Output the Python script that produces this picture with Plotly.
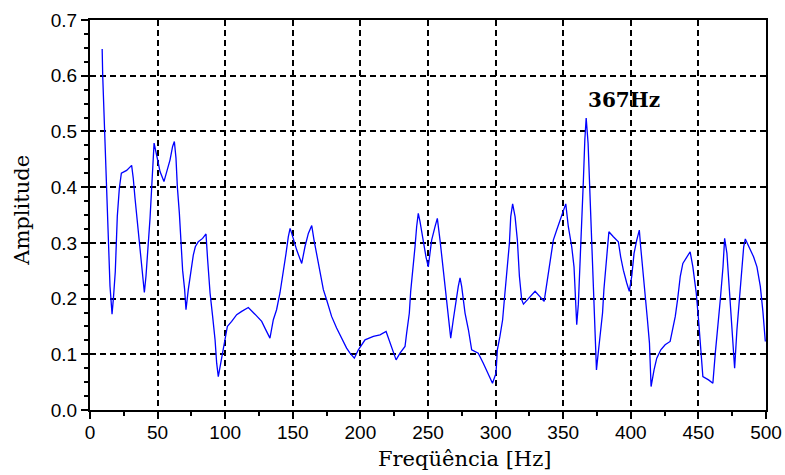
import plotly.graph_objects as go

# Amplitude spectrum of the measured signal
peak_freq = 367
peak_amp = 0.524

freq = [
    9.0, 9.4, 14.8, 16.3, 17.3, 18.7, 20.2, 21.7, 23.2, 27.1, 30.8, 32.0, 33.3, 35.0,
    36.5, 38.0, 39.4, 40.2, 41.4, 43.1, 44.4, 45.6, 46.4, 47.4, 49.5, 51.8, 54.7, 57.2,
    59.2, 61.1, 62.4, 63.6, 64.6, 66.1, 67.1, 68.5, 70.0, 71.0, 72.7, 74.7, 76.4, 77.9,
    80.1, 83.3, 85.8, 87.0, 88.8, 90.7, 92.5, 93.7, 94.9, 96.7, 98.6, 100.1, 101.6,
    104.8, 108.5, 112.2, 117.1, 122.0, 127.0, 129.4, 133.1, 135.6, 138.0, 140.5, 143.0,
    145.0, 146.7, 148.0, 149.2, 152.9, 156.6, 159.0, 161.5, 164.0, 165.7, 167.6, 170.1,
    172.6, 175.0, 178.7, 182.4, 186.1, 189.8, 192.3, 195.5, 198.5, 203.4, 209.6, 214.5,
    219.0, 221.9, 226.4, 229.3, 233.0, 234.2, 236.2, 237.2, 239.2, 240.4, 241.6, 242.8,
    244.1, 246.6, 248.5, 250.2, 252.7, 255.2, 256.9, 258.9, 261.4, 263.3, 265.1, 266.8,
    268.7, 270.7, 272.4, 273.7, 274.9, 277.4, 279.9, 282.3, 287.2, 290.9, 294.6, 297.7,
    300.3, 301.3, 303.2, 305.2, 306.9, 308.7, 310.2, 311.2, 312.6, 314.4, 316.1, 317.6,
    319.3, 320.6, 329.2, 335.9, 337.8, 340.3, 342.7, 345.2, 347.7, 350.6, 351.9, 353.8,
    356.3, 358.0, 359.0, 360.0, 361.2, 362.5, 363.7, 364.9, 366.0, peak_freq, 368.4,
    369.7, 371.0, 372.3, 373.5, 374.6, 375.5, 377.2, 379.1, 380.1, 381.6, 382.6, 383.8,
    387.1, 390.8, 392.5, 394.5, 397.0, 398.9, 400.7, 402.4, 404.4, 406.3, 407.3, 408.8,
    410.5, 412.3, 413.8, 415.0, 417.2, 419.2, 422.2, 425.4, 429.1, 431.1, 432.9, 434.6,
    436.6, 438.5, 441.5, 443.9, 445.9, 448.4, 450.1, 451.8, 453.3, 457.5, 460.7, 462.5,
    464.2, 466.2, 468.2, 469.4, 471.1, 473.1, 474.8, 476.8, 478.5, 480.2, 482.2, 483.5,
    484.7, 487.2, 490.8, 493.3, 495.8, 497.7, 499.5,
]

amplitude = [
    0.648, 0.600, 0.222, 0.172, 0.200, 0.248, 0.348, 0.398, 0.425, 0.430, 0.439, 0.416,
    0.380, 0.341, 0.305, 0.266, 0.240, 0.211, 0.240, 0.293, 0.344, 0.398, 0.449, 0.479,
    0.455, 0.428, 0.410, 0.431, 0.449, 0.473, 0.482, 0.452, 0.401, 0.353, 0.305, 0.251,
    0.216, 0.180, 0.216, 0.251, 0.278, 0.293, 0.302, 0.308, 0.316, 0.270, 0.210, 0.168,
    0.126, 0.084, 0.060, 0.084, 0.108, 0.132, 0.150, 0.159, 0.171, 0.177, 0.184, 0.172,
    0.159, 0.147, 0.129, 0.162, 0.180, 0.210, 0.246, 0.281, 0.311, 0.326, 0.317, 0.287,
    0.263, 0.293, 0.317, 0.331, 0.305, 0.281, 0.246, 0.216, 0.198, 0.168, 0.147, 0.129,
    0.111, 0.102, 0.093, 0.108, 0.126, 0.132, 0.135, 0.141, 0.120, 0.090, 0.102, 0.114,
    0.138, 0.174, 0.213, 0.257, 0.293, 0.329, 0.353, 0.338, 0.299, 0.275, 0.257, 0.305,
    0.329, 0.344, 0.305, 0.251, 0.216, 0.168, 0.129, 0.162, 0.198, 0.222, 0.237, 0.222,
    0.174, 0.144, 0.108, 0.102, 0.084, 0.066, 0.048, 0.066, 0.108, 0.132, 0.162, 0.210,
    0.257, 0.299, 0.347, 0.370, 0.347, 0.305, 0.240, 0.198, 0.190, 0.213, 0.195, 0.228,
    0.269, 0.305, 0.323, 0.341, 0.359, 0.370, 0.329, 0.293, 0.257, 0.216, 0.153, 0.190,
    0.281, 0.341, 0.410, 0.485, peak_amp, 0.479, 0.389, 0.293, 0.204, 0.132, 0.072,
    0.093, 0.138, 0.174, 0.216, 0.263, 0.299, 0.320, 0.311, 0.302, 0.275, 0.251, 0.228,
    0.213, 0.240, 0.281, 0.305, 0.323, 0.293, 0.257, 0.204, 0.162, 0.120, 0.042, 0.072,
    0.093, 0.108, 0.117, 0.123, 0.144, 0.168, 0.198, 0.240, 0.263, 0.275, 0.284, 0.257,
    0.210, 0.162, 0.108, 0.060, 0.054, 0.048, 0.102, 0.144, 0.198, 0.257, 0.308, 0.281,
    0.210, 0.144, 0.075, 0.144, 0.198, 0.257, 0.293, 0.307, 0.293, 0.275, 0.257, 0.222,
    0.177, 0.123,
]

x_ticks = [0, 50, 100, 150, 200, 250, 300, 350, 400, 450, 500]
y_ticks = [0.0, 0.1, 0.2, 0.3, 0.4, 0.5, 0.6, 0.7]

serif = "DejaVu Serif"
sans = "Liberation Sans, Arial, sans-serif"

fig = go.Figure()
fig.add_trace(go.Scatter(
    x=freq, y=amplitude, mode="lines",
    line=dict(color="#0000ff", width=1.3),
    hoverinfo="skip", showlegend=False,
))

axis_common = dict(
    showline=True, linecolor="black", linewidth=2, mirror=True,
    ticks="outside", ticklen=7, tickwidth=1.5, tickcolor="black",
    showgrid=True, gridcolor="black", gridwidth=1.6, griddash="6px,4px",
    zeroline=False, automargin=False,
    tickfont=dict(family=sans, size=19, color="black"),
)

fig.update_xaxes(
    range=[0, 500], tickvals=x_ticks, ticktext=[str(v) for v in x_ticks],
    ticklabelstandoff=-3,
    minor=dict(dtick=25, ticklen=4, tickcolor="black", tickwidth=1.5, ticks="outside", showgrid=False),
    **axis_common,
)
fig.update_yaxes(
    range=[0, 0.7], tickvals=y_ticks, ticktext=[f"{v:.1f}" for v in y_ticks],
    minor=dict(dtick=0.025, ticklen=4, tickcolor="black", tickwidth=1.5, ticks="outside", showgrid=False),
    **axis_common,
)

fig.add_annotation(
    x=peak_freq, y=0.556, xref="x", yref="y",
    text=f"<b>{peak_freq}Hz</b>", showarrow=False,
    xanchor="left", yanchor="middle",
    font=dict(family=serif, size=20, color="black"),
)
fig.add_annotation(
    x=0.554, y=-0.126, xref="paper", yref="paper",
    text="Freqüência [Hz]", showarrow=False,
    xanchor="center", yanchor="middle",
    font=dict(family=serif, size=21, color="black"),
)
fig.add_annotation(
    x=-0.1, y=0.512, xref="paper", yref="paper",
    text="Amplitude", showarrow=False, textangle=-90,
    xanchor="center", yanchor="middle",
    font=dict(family=serif, size=21, color="black"),
)

fig.update_layout(
    width=785, height=475,
    margin=dict(l=90, r=19, t=20, b=65, autoexpand=False),
    paper_bgcolor="white", plot_bgcolor="white",
)

fig.write_html("out.html")
